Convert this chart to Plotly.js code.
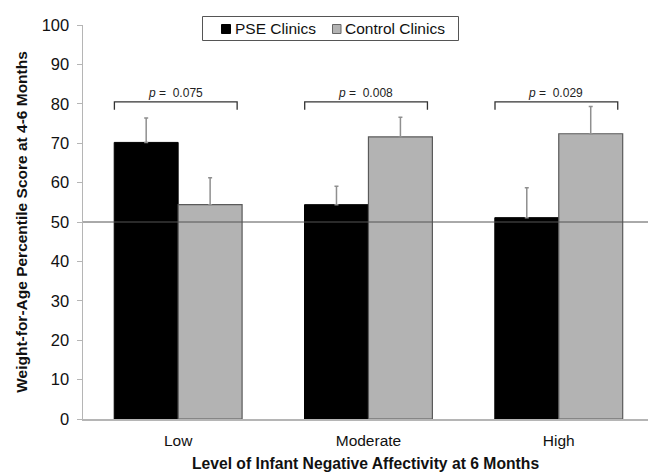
<!DOCTYPE html>
<html>
<head>
<meta charset="utf-8">
<script src="https://cdn.plot.ly/plotly-3.0.1.min.js"></script>
<style>html,body{margin:0;padding:0;background:#fff;}#chart{width:649px;height:473px;}</style>
</head>
<body>
<div id="chart"></div>
<script>
// ---- data ----
const categories = ["Low", "Moderate", "High"];
const seriesNames = ["PSE Clinics", "Control Clinics"];
const pseValues = [70.2, 54.4, 51.1];
const pseErrors = [6.2, 4.7, 7.6];
const controlValues = [54.4, 71.6, 72.4];
const controlErrors = [6.8, 5.0, 6.9];
const pValues = ["0.075", "0.008", "0.029"];
const yTicks = [0, 10, 20, 30, 40, 50, 60, 70, 80, 90, 100];
const referenceLine = 50;
const bracketLevel = 80.5;
const bracketDrop = 2.0;
const pLabelLevel = 82.8;

const font = "Liberation Sans, Arial, sans-serif";

const traces = [
  {
    type: "bar", name: seriesNames[0], x: categories, y: pseValues,
    marker: {color: "#000000", line: {color: "#000000", width: 1}},
    error_y: {type: "data", array: pseErrors, symmetric: false, arrayminus: [0,0,0],
              color: "#8f8f8f", thickness: 1.5, width: 2},
    showlegend: false, hoverinfo: "skip"
  },
  {
    type: "bar", name: seriesNames[1], x: categories, y: controlValues,
    marker: {color: "#b3b3b3", line: {color: "#5a5a5a", width: 1.2}},
    error_y: {type: "data", array: controlErrors, symmetric: false, arrayminus: [0,0,0],
              color: "#8f8f8f", thickness: 1.5, width: 2},
    showlegend: false, hoverinfo: "skip"
  }
];

const shapes = [];
const annotations = [];

// reference line at 50
shapes.push({type: "line", xref: "paper", x0: 0, x1: 1, yref: "y", y0: referenceLine, y1: referenceLine,
             line: {color: "#555555", width: 1}, layer: "above"});

// brackets + p labels
categories.forEach((c, i) => {
  const xl = i - 0.335, xr = i + 0.31;
  shapes.push({type: "path", xref: "x", yref: "y",
    path: `M ${xl} ${bracketLevel - bracketDrop} L ${xl} ${bracketLevel} L ${xr} ${bracketLevel} L ${xr} ${bracketLevel - bracketDrop}`,
    line: {color: "#333333", width: 1.3}});
  annotations.push({xref: "x", yref: "y", x: i - 0.015, y: pLabelLevel, showarrow: false,
    text: "<i>p</i> =  " + pValues[i], font: {family: font, size: 12, color: "#222"}});
});

// manual legend (paper px converted)
const W = 649, H = 473, ml = 83, mr = 1, mt = 25, mb = 54;
const pw = W - ml - mr, ph = H - mt - mb;
const px = v => (v - ml) / pw;
const py = v => 1 - (v - mt) / ph;
shapes.push({type: "rect", xref: "paper", yref: "paper", x0: px(202.5), x1: px(458.5), y0: py(40.5), y1: py(16.5),
             line: {color: "#555555", width: 1}, fillcolor: "#ffffff", layer: "above"});
shapes.push({type: "rect", xref: "paper", yref: "paper", x0: px(221.5), x1: px(230.5), y0: py(33.5), y1: py(24.5),
             line: {color: "#000", width: 1}, fillcolor: "#000", layer: "above"});
shapes.push({type: "rect", xref: "paper", yref: "paper", x0: px(332.5), x1: px(341), y0: py(33.5), y1: py(24.5),
             line: {color: "#666", width: 1}, fillcolor: "#b3b3b3", layer: "above"});
annotations.push({xref: "paper", yref: "paper", x: px(232.5), y: py(28.8), xanchor: "left", yanchor: "middle",
  showarrow: false, text: seriesNames[0], font: {family: font, size: 15.5, color: "#111"}});
annotations.push({xref: "paper", yref: "paper", x: px(342.5), y: py(28.8), xanchor: "left", yanchor: "middle",
  showarrow: false, text: seriesNames[1], font: {family: font, size: 15.5, color: "#111"}});

const layout = {
  width: W, height: H,
  margin: {l: ml, r: mr, t: mt, b: mb, pad: 0},
  paper_bgcolor: "#fff", plot_bgcolor: "#fff",
  barmode: "group", bargap: 0.328, bargroupgap: 0,
  font: {family: font, color: "#111"},
  xaxis: {
    type: "category", range: [-0.5, 2.469], fixedrange: true,
    showline: true, linecolor: "#b5b5b5", linewidth: 1.5, showgrid: false, zeroline: false,
    ticks: "", ticklabelstandoff: 7,
    tickfont: {family: font, size: 15.5, color: "#111"},
    title: {text: "<b>Level of Infant Negative Affectivity at 6 Months</b>", standoff: 10,
            font: {family: font, size: 15.7, color: "#111"}}
  },
  yaxis: {
    range: [0, 100], tickvals: yTicks, fixedrange: true,
    showline: true, linecolor: "#b5b5b5", linewidth: 1.5, showgrid: false, zeroline: false,
    ticks: "outside", ticklen: 5, tickcolor: "#b5b5b5", tickwidth: 1, ticklabelstandoff: 4,
    tickfont: {family: font, size: 16.5, color: "#111"},
    title: {text: "<b>Weight-for-Age Percentile Score at 4-6 Months</b>", standoff: 10,
            font: {family: font, size: 15.5, color: "#111"}}
  },
  shapes: shapes,
  annotations: annotations,
  showlegend: false
};

Plotly.newPlot("chart", traces, layout, {displayModeBar: false, staticPlot: true});
</script>
</body>
</html>
